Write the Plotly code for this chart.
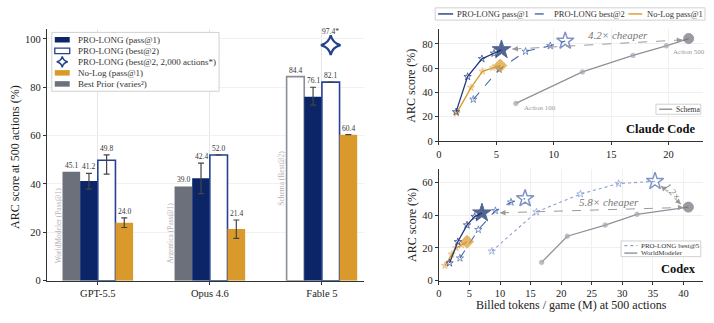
import plotly.graph_objects as go

W, H = 714, 323
FONT = "Liberation Serif"
NAVY = "#0b2566"
NAVY_EDGE = "#25428e"
MIDBLUE = "#4a67ad"
LIGHTBLUE = "#8d9fd3"
GOLD = "#d99a2b"
GOLD_LIGHT = "rgba(217,154,43,0.55)"
GREY = "#6b707b"
GREY_LINE = "#8e929a"
TXT = "#222222"

# ---------------- data: left panel (ARC score at 500 actions) ----------------
models = ["GPT-5.5", "Opus 4.6", "Fable 5"]
prior_names = ["WorldModeler (Pass@1)", "Argentica (Pass@1)", "Schema (Best@2)"]
prior_vals = [45.1, 39.0, 84.4]
pass1_vals = [41.2, 42.4, 76.1]
pass1_lo = [37.9, 36.0, 72.6]
pass1_hi = [44.4, 48.6, 80.0]
best2_vals = [49.8, 52.0, 82.1]
best2_lo = [44.1, None, None]
best2_hi = [52.0, None, None]
nolog_vals = [24.0, 21.4, 60.4]
nolog_lo = [22.0, 17.5, None]
nolog_hi = [26.0, 25.1, None]
best2_2000 = [None, None, 97.4]

# ---------------- data: Claude Code panel ----------------
cc_pass1_x = [1.5, 2.5, 3.75, 4.8, 5.45]
cc_pass1_y = [24.0, 53.0, 67.7, 72.2, 75.2]
cc_best2_x = [3.0, 5.25, 7.55, 9.7, 11.0]
cc_best2_y = [34.3, 59.0, 73.8, 78.4, 82.4]
cc_nolog_x = [1.55, 2.8, 3.8, 4.7, 5.35]
cc_nolog_y = [23.0, 44.0, 57.4, 60.4, 62.2]
cc_schema_x = [6.7, 12.5, 16.9, 19.8, 21.75]
cc_schema_y = [31.0, 56.9, 70.5, 78.4, 84.4]

# ---------------- data: Codex panel ----------------
cx_pass1_x = [1.75, 3.1, 4.6, 5.85, 7.05]
cx_pass1_y = [10.8, 23.8, 34.0, 39.2, 41.4]
cx_best2_x = [3.45, 6.45, 9.25, 11.8, 14.1]
cx_best2_y = [13.8, 31.2, 42.8, 48.0, 50.2]
cx_best5_x = [8.65, 15.95, 23.15, 29.4, 35.35]
cx_best5_y = [18.0, 42.0, 53.0, 59.4, 60.8]
cx_nolog_x = [1.0, 2.1, 2.8, 3.7, 4.6]
cx_nolog_y = [9.2, 16.2, 20.0, 21.8, 23.8]
cx_wm_x = [16.8, 21.0, 27.2, 32.4, 40.8]
cx_wm_y = [11.2, 27.2, 34.0, 40.6, 45.0]

# ---------------- layout geometry (pixels) ----------------
BOX = {
    "L": dict(x=(44, 363), y=(30, 286), xr=(-0.455, 2.38), yr=(0, 103.9)),
    "T": dict(x=(437.7, 703), y=(30, 143.7), xr=(0, 23.0), yr=(0, 91.9)),
    "B": dict(x=(437.7, 703), y=(172.7, 286), xr=(0, 43.2), yr=(0, 68)),
}


def dom_x(k):
    b = BOX[k]["x"]
    return [b[0] / W, b[1] / W]


def dom_y(k):
    b = BOX[k]["y"]
    return [1 - b[1] / H, 1 - b[0] / H]


def to_px(k, x, y):
    b = BOX[k]
    px = b["x"][0] + (x - b["xr"][0]) / (b["xr"][1] - b["xr"][0]) * (b["x"][1] - b["x"][0])
    py = b["y"][1] - (y - b["yr"][0]) / (b["yr"][1] - b["yr"][0]) * (b["y"][1] - b["y"][0])
    return px, py


def PX(x):
    return x / W


def PY(y):
    return 1 - y / H


fig = go.Figure()

# ---------------- left bars ----------------
BARGAP = 0.37
w = (1 - BARGAP) / 4
xi = list(range(len(models)))


def errs(vals, lo, hi):
    up = [None if h is None else h - v for v, h in zip(vals, hi)]
    dn = [None if l is None else v - l for v, l in zip(vals, lo)]
    return dict(type="data", symmetric=False, array=up, arrayminus=dn,
                color="#444444", thickness=1.2, width=3)


fig.add_trace(go.Bar(
    x=xi, y=prior_vals, name="Best Prior", xaxis="x", yaxis="y",
    marker=dict(color=[GREY, GREY, "white"],
                line=dict(color=[GREY, GREY, "#8a8e96"], width=[0, 0, 1.6])),
    showlegend=False))
fig.add_trace(go.Bar(
    x=xi, y=pass1_vals, name="PRO-LONG (pass@1)", xaxis="x", yaxis="y",
    marker=dict(color=NAVY, line=dict(width=0)),
    error_y=errs(pass1_vals, pass1_lo, pass1_hi), showlegend=False))
fig.add_trace(go.Bar(
    x=xi, y=best2_vals, name="PRO-LONG (best@2)", xaxis="x", yaxis="y",
    marker=dict(color="white", line=dict(color=NAVY_EDGE, width=1.6)),
    error_y=errs(best2_vals, best2_lo, best2_hi), showlegend=False))
fig.add_trace(go.Bar(
    x=xi, y=nolog_vals, name="No-Log (pass@1)", xaxis="x", yaxis="y",
    marker=dict(color=GOLD, line=dict(width=0)),
    error_y=errs(nolog_vals, nolog_lo, nolog_hi), showlegend=False))

# 2,000-action marker
fig.add_trace(go.Scatter(
    x=[i + 0.5 * w for i in xi], y=best2_2000, mode="markers",
    xaxis="x", yaxis="y",
    marker=dict(symbol="star-diamond-open", size=14, color=NAVY_EDGE, line=dict(width=2.2, color=NAVY_EDGE)),
    showlegend=False))

ann = []
# value labels
series = [(prior_vals, None, -1.5), (pass1_vals, pass1_hi, -0.5), (best2_vals, best2_hi, 0.5), (nolog_vals, nolog_hi, 1.5)]
for vals, hi, off in series:
    for i, v in enumerate(vals):
        top = v if (hi is None or hi[i] is None) else max(v, hi[i])
        ann.append(dict(x=i + off * w, y=top, xref="x", yref="y", text=f"{v:.1f}", showarrow=False,
                        xanchor="center", yanchor="bottom", yshift=0,
                        font=dict(size=7.5, color="#333", family=FONT)))
for i, v in enumerate(best2_2000):
    if v is not None:
        ann.append(dict(x=i + 0.5 * w, y=v, xref="x", yref="y", text=f"{v:.1f}*", showarrow=False,
                        xanchor="center", yanchor="bottom", yshift=7,
                        font=dict(size=7.5, color="#333", family=FONT)))
# rotated prior names
for i, (nm, v) in enumerate(zip(prior_names, prior_vals)):
    ann.append(dict(x=i - 2 * w, y=v / 2, xref="x", yref="y", text=nm, showarrow=False, textangle=-90,
                    xanchor="center", yanchor="middle", xshift=-4.5,
                    font=dict(size=7.5, color="#b4b4b4", family=FONT)))


# ---------------- line panels ----------------
def line_trace(xs, ys, xa, ya, color, dash, sym_small, sym_big, size_big, col_small, col_big,
               lw_big=1.0, width=1.3, size_small=5.5):
    n = len(xs)
    return go.Scatter(
        x=xs, y=ys, xaxis=xa, yaxis=ya, mode="lines+markers",
        line=dict(color=color, width=width, dash=dash),
        marker=dict(symbol=[sym_small] * (n - 1) + [sym_big], size=[size_small] * (n - 1) + [size_big],
                    color=[col_small] * (n - 1) + [col_big],
                    line=dict(width=[1] * (n - 1) + [lw_big], color=[col_small] * (n - 1) + [col_big])),
        showlegend=False)


# Claude Code
fig.add_trace(line_trace(cc_schema_x, cc_schema_y, "x2", "y2", GREY_LINE, "solid", "circle", "circle", 10,
                         "#a3a7ae", "#6e727b", size_small=4.5))
for t in [
    line_trace(cc_best2_x, cc_best2_y, "x2", "y2", MIDBLUE, "dash", "star-open", "star-open", 13, MIDBLUE, MIDBLUE, 1.5, 1.1),
    line_trace(cc_nolog_x, cc_nolog_y, "x2", "y2", GOLD, "solid", "star", "diamond", 10, GOLD_LIGHT, GOLD),
    line_trace(cc_pass1_x, cc_pass1_y, "x2", "y2", "#22397e", "solid", "star-open", "star", 14, "#22397e", NAVY),
]:
    fig.add_trace(t)

# Codex
fig.add_trace(line_trace(cx_wm_x, cx_wm_y, "x3", "y3", GREY_LINE, "solid", "circle", "circle", 10,
                         "#a3a7ae", "#6e727b", size_small=4.5))
for t in [
    line_trace(cx_best5_x, cx_best5_y, "x3", "y3", LIGHTBLUE, "dot", "star-open", "star-open", 13, LIGHTBLUE, MIDBLUE, 1.4, 1.1),
    line_trace(cx_best2_x, cx_best2_y, "x3", "y3", MIDBLUE, "dash", "star-open", "star-open", 13, MIDBLUE, MIDBLUE, 1.5, 1.1),
    line_trace(cx_nolog_x, cx_nolog_y, "x3", "y3", GOLD, "solid", "star", "diamond", 10, GOLD_LIGHT, GOLD),
    line_trace(cx_pass1_x, cx_pass1_y, "x3", "y3", "#22397e", "solid", "star-open", "star", 14, "#22397e", NAVY),
]:
    fig.add_trace(t)

shapes = []


def dashed_arrow(k, xa, ya, A, B, color="#9a9a9a"):
    shapes.append(dict(type="line", xref=xa, yref=ya, x0=A[0], y0=A[1], x1=B[0], y1=B[1],
                       line=dict(color=color, width=1, dash="dash")))
    pa = to_px(k, *A)
    pb = to_px(k, *B)
    L = ((pb[0] - pa[0]) ** 2 + (pb[1] - pa[1]) ** 2) ** 0.5
    f = 7 / L
    for H_, T_ in [(A, B), (B, A)]:
        tx = H_[0] + f * (T_[0] - H_[0])
        ty = H_[1] + f * (T_[1] - H_[1])
        ann.append(dict(x=H_[0], y=H_[1], ax=tx, ay=ty, xref=xa, yref=ya, axref=xa, ayref=ya, text="",
                        showarrow=True, arrowhead=2, arrowsize=1.1, arrowwidth=1, arrowcolor=color))


dashed_arrow("T", "x2", "y2", (6.4, 75.7), (21.2, 83.3))
dashed_arrow("B", "x3", "y3", (10.0, 41.5), (40.0, 44.8))
dashed_arrow("B", "x3", "y3", (36.3, 58.0), (39.6, 46.8))


def ptext(x, y, text, size, color=TXT, angle=0, xanchor="center"):
    ann.append(dict(x=PX(x), y=PY(y), xref="paper", yref="paper", text=text, showarrow=False,
                    textangle=angle, xanchor=xanchor, yanchor="middle",
                    font=dict(size=size, color=color, family=FONT)))


ann += [
    dict(x=15.6, y=87.0, xref="x2", yref="y2", text="<i>4.2× cheaper</i>", showarrow=False,
         xanchor="center", yanchor="middle", font=dict(size=11, color="#777", family=FONT)),
    dict(x=cc_schema_x[0], y=cc_schema_y[0], xref="x2", yref="y2", text="Action 100", showarrow=False,
         xanchor="left", yanchor="middle", xshift=6, yshift=-5, font=dict(size=7, color="#999", family=FONT)),
    dict(x=cc_schema_x[-1], y=cc_schema_y[-1], xref="x2", yref="y2", text="Action 500", showarrow=False,
         xanchor="center", yanchor="middle", xshift=0, yshift=-13, font=dict(size=7, color="#999", family=FONT)),
    dict(x=27.9, y=48.2, xref="x3", yref="y3", text="<i>5.8× cheaper</i>", showarrow=False,
         xanchor="center", yanchor="middle", font=dict(size=11, color="#777", family=FONT)),
    dict(x=38.2, y=54.6, xref="x3", yref="y3", text="<i>1.2×</i>", showarrow=False, textangle=50,
         xanchor="center", yanchor="middle", font=dict(size=10, color="#777", family=FONT)),
]
ptext(698, 131, "<b>Claude Code</b>", 12.5, "#111", xanchor="right")
ptext(698, 274, "<b>Codex</b>", 12.5, "#111", xanchor="right")
# axis titles
ptext(12, 160, "ARC score at 500 actions (%)", 12, angle=-90)
ptext(410, 87, "ARC score (%)", 12, angle=-90)
ptext(410, 229, "ARC score (%)", 12, angle=-90)
ptext(571, 311, "Billed tokens / game (M) at 500 actions", 12)


# ---------------- manual legends ----------------
def box(x0, y0, x1, y1):
    shapes.append(dict(type="rect", xref="paper", yref="paper", x0=PX(x0), x1=PX(x1), y0=PY(y1), y1=PY(y0),
                       fillcolor="rgba(255,255,255,0.92)", line=dict(color="#d0d0d0", width=1)))


def sw_rect(xc, yc, fill, edge=None):
    shapes.append(dict(type="rect", xref="paper", yref="paper", x0=PX(xc - 7.5), x1=PX(xc + 7.5),
                       y0=PY(yc + 2.8), y1=PY(yc - 2.8), fillcolor=fill,
                       line=dict(color=edge or fill, width=1.3 if edge else 0)))


def sw_line(x0, x1, yc, color, dash="solid", width=1.4):
    shapes.append(dict(type="line", xref="paper", yref="paper", x0=PX(x0), x1=PX(x1), y0=PY(yc), y1=PY(yc),
                       line=dict(color=color, width=width, dash=dash)))


def label(x, yc, text, size):
    ann.append(dict(x=PX(x), y=PY(yc), xref="paper", yref="paper", text=text, showarrow=False,
                    xanchor="left", yanchor="middle", font=dict(size=size, color="#333", family=FONT)))


# left legend
box(49, 33, 217, 93)
rows = [40.5 + 11.25 * i for i in range(5)]
sw_rect(59.5, rows[0], NAVY)
sw_rect(59.5, rows[1], "white", NAVY_EDGE)
shapes.append(dict(type="path", xref="paper", yref="paper", xsizemode="pixel", ysizemode="pixel",
                   xanchor=PX(59.5), yanchor=PY(rows[2]),
                   path="M0,5.5 Q1,1 5.5,0 Q1,-1 0,-5.5 Q-1,-1 -5.5,0 Q-1,1 0,5.5 Z",
                   fillcolor="white", line=dict(color=NAVY_EDGE, width=1.5)))
sw_rect(59.5, rows[3], GOLD)
sw_rect(59.5, rows[4], GREY)
legend_texts = ["PRO-LONG (pass@1)", "PRO-LONG (best@2)", "PRO-LONG (best@2, 2,000 actions*)",
                "No-Log (pass@1)", "Best Prior (varies²)"]
for r, t in zip(rows, legend_texts):
    label(73, r, t, 9)

# top-right legend
box(434, 8, 705, 20.5)
sw_line(437, 452, 14.2, "#22397e")
label(454, 14.2, "PRO-LONG pass@1", 8.5)
sw_line(534, 548, 14.2, MIDBLUE, "dash")
label(551, 14.2, "PRO-LONG best@2", 8.5)
sw_line(628, 642, 14.2, GOLD)
label(645, 14.2, "No-Log pass@1", 8.5)

# schema legend
box(655.7, 106.2, 700.7, 116.4)
sw_line(659, 672, 111.3, GREY_LINE)
label(674, 111.3, "Schema", 7.5)

# codex legend
box(620.7, 245.5, 700.7, 261.5)
sw_line(624, 637, 250.3, LIGHTBLUE, "dot")
label(639, 250.3, "PRO-LONG best@5", 7)
sw_line(624, 637, 257.9, GREY_LINE)
label(639, 257.9, "WorldModeler", 7)

# ---------------- axes ----------------
tickfont = dict(size=10.5, color=TXT, family=FONT)
axis_common = dict(showline=True, linecolor="#333", linewidth=1, ticks="outside", ticklen=3,
                   tickcolor="#333", tickfont=tickfont, zeroline=False, mirror=False)

fig.update_layout(
    width=W, height=H, margin=dict(l=0, r=0, t=0, b=0),
    paper_bgcolor="white", plot_bgcolor="white",
    barmode="group", bargap=BARGAP, bargroupgap=0,
    showlegend=False,
    font=dict(family=FONT, color=TXT),
    xaxis=dict(domain=dom_x("L"), anchor="y", range=list(BOX["L"]["xr"]), tickvals=xi, ticktext=models,
               showgrid=True, gridcolor="#e6e6e6", gridwidth=1, **axis_common),
    yaxis=dict(domain=dom_y("L"), anchor="x", range=list(BOX["L"]["yr"]), tickvals=[0, 20, 40, 60, 80, 100],
               showgrid=True, gridcolor="#f1f1f1", **axis_common),
    xaxis2=dict(domain=dom_x("T"), anchor="y2", range=list(BOX["T"]["xr"]), tickvals=[0, 5, 10, 15, 20],
                showgrid=True, gridcolor="#f0f0f0", **axis_common),
    yaxis2=dict(domain=dom_y("T"), anchor="x2", range=list(BOX["T"]["yr"]), tickvals=[0, 20, 40, 60, 80],
                showgrid=True, gridcolor="#f0f0f0", **axis_common),
    xaxis3=dict(domain=dom_x("B"), anchor="y3", range=list(BOX["B"]["xr"]), tickvals=list(range(0, 45, 5)),
                showgrid=True, gridcolor="#f0f0f0", **axis_common),
    yaxis3=dict(domain=dom_y("B"), anchor="x3", range=list(BOX["B"]["yr"]), tickvals=[0, 20, 40, 60],
                showgrid=True, gridcolor="#f0f0f0", **axis_common),
    annotations=ann,
    shapes=shapes,
)

fig.write_html("out.html")
